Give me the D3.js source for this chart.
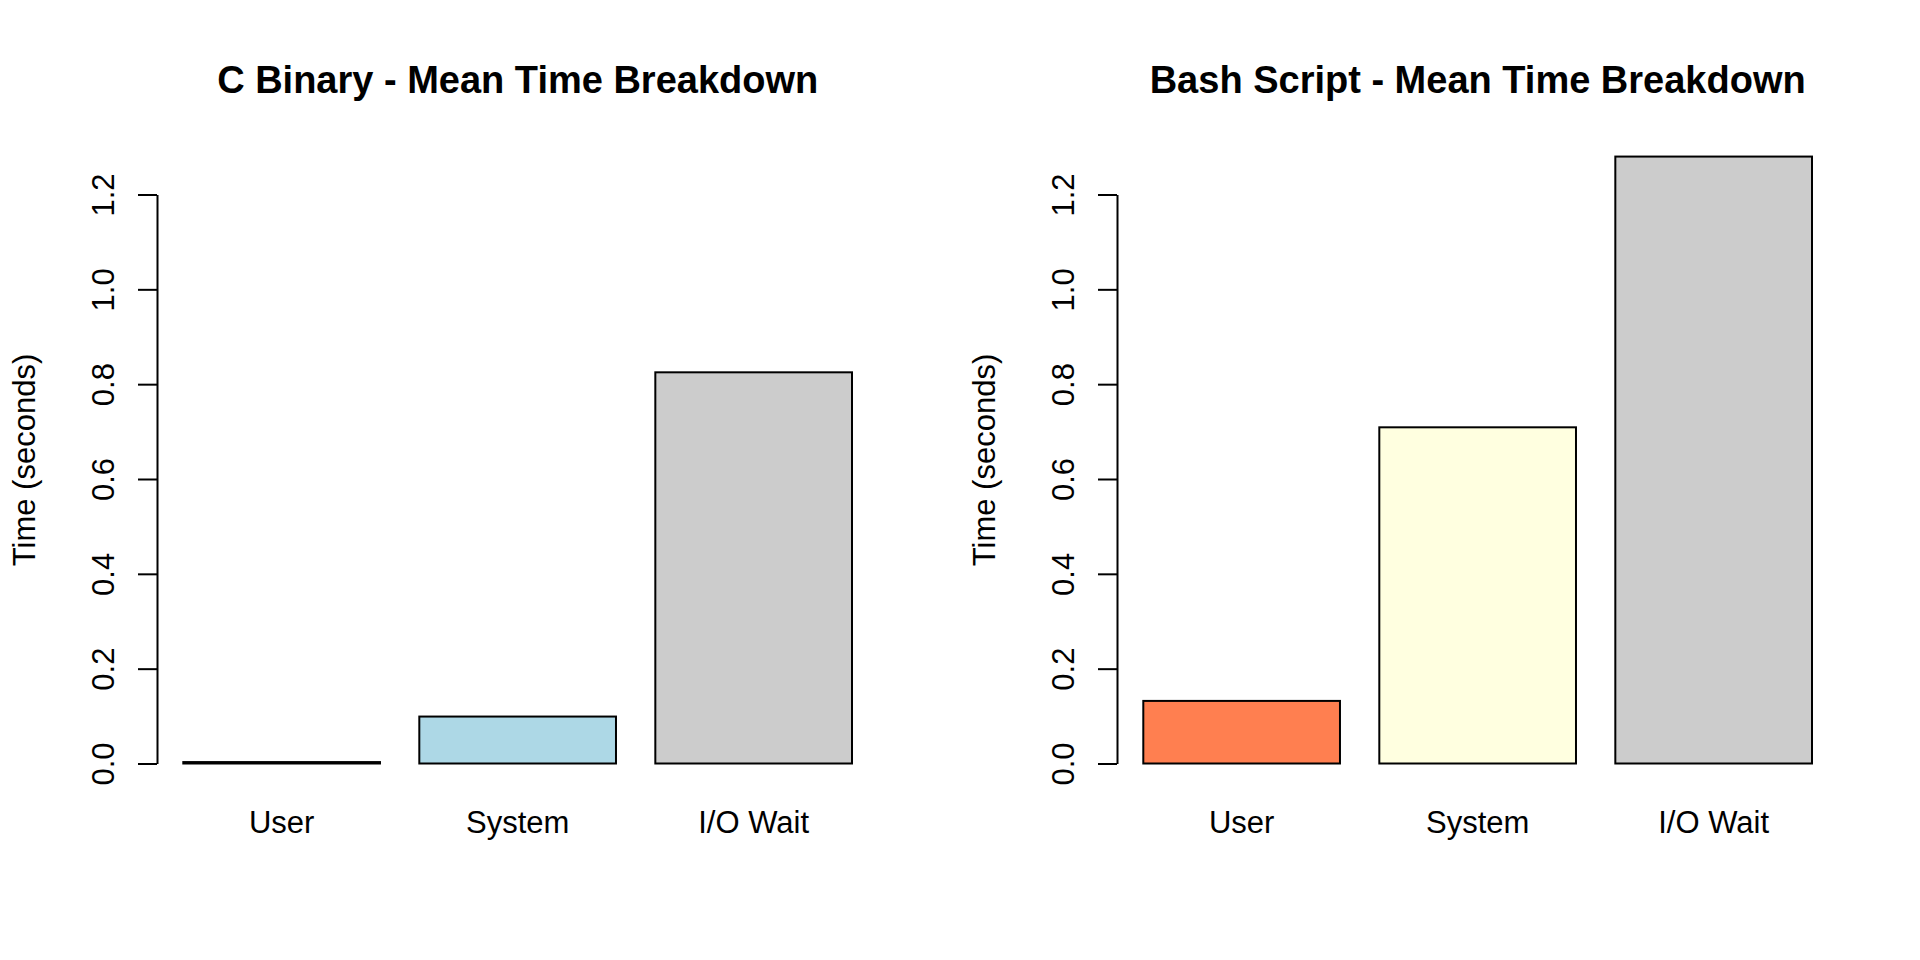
<!DOCTYPE html>
<html>
<head>
<meta charset="utf-8">
<script src="https://cdn.jsdelivr.net/npm/d3@7"></script>
<style>
  html, body { margin: 0; padding: 0; background: #ffffff; }
  svg { display: block; font-family: "Liberation Sans", Arial, sans-serif; }
</style>
</head>
<body>
<svg id="chart" width="1920" height="960"></svg>
<script>
// ---- data ----
const categories = ["User", "System", "I/O Wait"];
const panelTitles = ["C Binary - Mean Time Breakdown", "Bash Script - Mean Time Breakdown"];
const cBinaryValues = [0.003, 0.099, 0.825];
const bashScriptValues = [0.132, 0.709, 1.280];
const cBinaryColors = ["#FF7F50", "#ADD8E6", "#CCCCCC"];
const bashScriptColors = ["#FF7F50", "#FFFFE0", "#CCCCCC"];
const yTicks = [0.0, 0.2, 0.4, 0.6, 0.8, 1.0, 1.2];
const yLabel = "Time (seconds)";

const panels = [
  { title: panelTitles[0], values: cBinaryValues, colors: cBinaryColors },
  { title: panelTitles[1], values: bashScriptValues, colors: bashScriptColors }
];

const svg = d3.select("#chart");
const panelWidth = 960;

const y = d3.scaleLinear().domain([0, 1.2]).range([763.5, 194.5]);

panels.forEach((p, i) => {
  const g = svg.append("g").attr("transform", `translate(${i * panelWidth},0)`);

  const x = d3.scaleBand()
    .domain(categories)
    .range([183.3, 852])
    .paddingInner(1 / 6)
    .paddingOuter(0);

  // bars
  g.selectAll("rect.bar")
    .data(p.values)
    .join("rect")
    .attr("class", "bar")
    .attr("x", (d, j) => x(categories[j]))
    .attr("width", x.bandwidth())
    .attr("y", d => y(d))
    .attr("height", d => y(0) - y(d))
    .attr("fill", (d, j) => p.colors[j])
    .attr("stroke", "#000")
    .attr("stroke-width", 2);

  // y axis
  const axis = g.append("g")
    .attr("transform", "translate(157,0)")
    .call(d3.axisLeft(y).tickValues(yTicks).tickSize(19).tickSizeOuter(0).tickFormat(d3.format(".1f")));
  axis.select(".domain").attr("stroke", "#000").attr("stroke-width", 2);
  axis.selectAll(".tick line").attr("stroke", "#000").attr("stroke-width", 2);
  axis.selectAll(".tick text")
    .attr("transform", "rotate(-90)")
    .attr("x", 0)
    .attr("y", -43)
    .attr("dy", null)
    .attr("text-anchor", "middle")
    .attr("fill", "#000")
    .style("font-size", "31px")
    .style("font-family", "'Liberation Sans', Arial, sans-serif");

  // category labels
  g.selectAll("text.cat")
    .data(categories)
    .join("text")
    .attr("class", "cat")
    .attr("x", d => x(d) + x.bandwidth() / 2)
    .attr("y", 833)
    .attr("text-anchor", "middle")
    .style("font-size", "31px")
    .text(d => d);

  // y label
  g.append("text")
    .attr("transform", "translate(35,460) rotate(-90)")
    .attr("text-anchor", "middle")
    .style("font-size", "31px")
    .text(yLabel);

  // title
  g.append("text")
    .attr("x", 517.7)
    .attr("y", 93)
    .attr("text-anchor", "middle")
    .style("font-size", "38px")
    .style("font-weight", "bold")
    .text(p.title);
});
</script>
</body>
</html>
